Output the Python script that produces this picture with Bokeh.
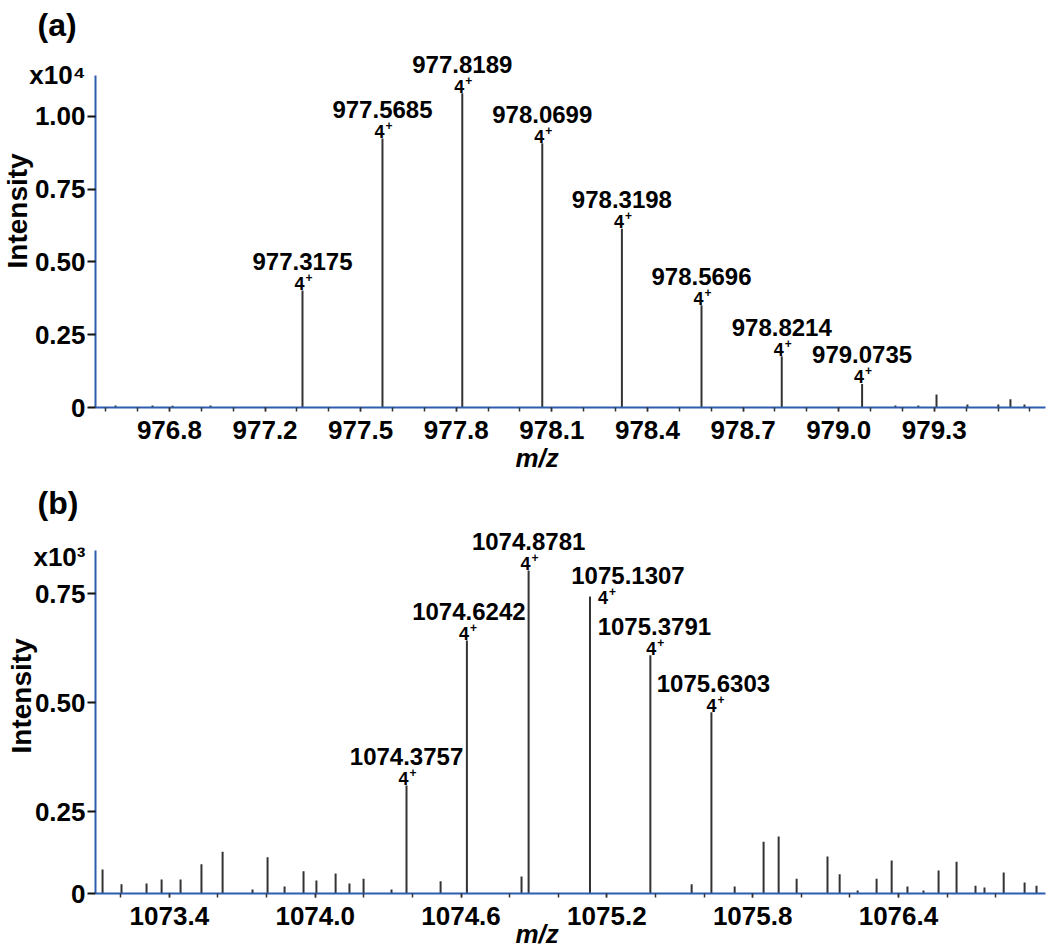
from bokeh.plotting import figure
from bokeh.models import FixedTicker, ColumnDataSource, Range1d, Title
from bokeh.layouts import column
from bokeh.embed import file_html
from bokeh.resources import INLINE
from bokeh.core.properties import value

FONT = "Liberation Sans"
PEAK_COLOR = "#333333"
AXIS_BLUE = "#2c5db0"

# ---------------- panel (a) data ----------------
mz_a = [977.3175, 977.5685, 977.8189, 978.0699, 978.3198, 978.5696, 978.8214, 979.0735]
int_a = [0.402, 0.924, 1.080, 0.908, 0.614, 0.351, 0.176, 0.081]
charge_a = [4, 4, 4, 4, 4, 4, 4, 4]
noise_mz_a = [976.731, 976.847, 976.910, 977.029, 979.178, 979.250, 979.307,
              979.404, 979.501, 979.539, 979.583]
noise_int_a = [0.007, 0.007, 0.006, 0.007, 0.007, 0.007, 0.045, 0.010, 0.010, 0.028, 0.010]
xticks_a = [976.9, 977.2, 977.5, 977.8, 978.1, 978.4, 978.7, 979.0, 979.3]
xlabels_a = ["976.8", "977.2", "977.5", "977.8", "978.1", "978.4", "978.7", "979.0", "979.3"]
xminor_a = [976.7, 976.8, 976.9, 977.0, 977.1, 977.2, 977.3, 977.4, 977.5, 977.6, 977.7,
            977.8, 977.9, 978.0, 978.1, 978.2, 978.3, 978.4, 978.5, 978.6, 978.7, 978.8,
            978.9, 979.0, 979.1, 979.2, 979.3, 979.4, 979.5, 979.6]
yticks_a = [0.0, 0.25, 0.50, 0.75, 1.00]
ylabels_a = ["0", "0.25", "0.50", "0.75", "1.00"]
scale_tick_a = 1.141
scale_label_a = "x10\u2074"
xrange_a = (976.668, 979.649)
yrange_a = (0.0, 1.2405)
yaxis_top_a = 1.141

# ---------------- panel (b) data ----------------
mz_b = [1074.3757, 1074.6242, 1074.8781, 1075.1307, 1075.3791, 1075.6303]
int_b = [0.310, 0.643, 0.804, 0.744, 0.609, 0.478]
charge_b = [4, 4, 4, 4, 4, 4]
noise_mz_b = [1073.125, 1073.203, 1073.306, 1073.368, 1073.446, 1073.532, 1073.619,
              1073.742, 1073.804, 1073.874, 1073.952, 1074.005, 1074.084, 1074.141,
              1074.199, 1074.314, 1074.516, 1074.849, 1075.549, 1075.726, 1075.845,
              1075.907, 1075.981, 1076.108, 1076.158, 1076.232, 1076.310, 1076.372,
              1076.437, 1076.503, 1076.565, 1076.639, 1076.717, 1076.754, 1076.833,
              1076.919, 1076.968]
noise_int_b = [0.117, 0.083, 0.085, 0.094, 0.094, 0.129, 0.158, 0.071, 0.145, 0.078,
               0.113, 0.092, 0.108, 0.085, 0.096, 0.071, 0.090, 0.101, 0.083, 0.078,
               0.181, 0.193, 0.096, 0.147, 0.106, 0.069, 0.096, 0.138, 0.078, 0.069,
               0.115, 0.135, 0.080, 0.076, 0.110, 0.087, 0.080]
xticks_b = [1073.4, 1074.0, 1074.6, 1075.2, 1075.8, 1076.4]
xlabels_b = ["1073.4", "1074.0", "1074.6", "1075.2", "1075.8", "1076.4"]
xminor_b = [1073.2, 1073.4, 1073.6, 1073.8, 1074.0, 1074.2, 1074.4, 1074.6, 1074.8,
            1075.0, 1075.2, 1075.4, 1075.6, 1075.8, 1076.0, 1076.2, 1076.4, 1076.6, 1076.8]
y0_b = 0.062
yticks_b = [y0_b, 0.25, 0.50, 0.75]
ylabels_b = ["0", "0.25", "0.50", "0.75"]
scale_tick_b = 0.836
scale_label_b = "x10\u00b3"
xrange_b = (1073.096, 1077.005)
yrange_b = (y0_b, 0.9095)
yaxis_top_b = 0.850

# label placement tweaks (pixels) for panel (b)
lab_dx_b = [0, 2, 0, 38, 4, 2]
chg_dx_b = [0, 0, 0, 16, 4, 3]
dy_b = [0, 0, 0, 8, 0, 0]


def style(p, xticks, xlabels, xminor, yticks, ylabels, stick, slabel, ybounds):
    p.xgrid.grid_line_color = None
    p.ygrid.grid_line_color = None
    p.outline_line_color = None
    p.background_fill_color = "white"
    p.border_fill_color = "white"
    xa = p.xaxis[0]
    xa.ticker = FixedTicker(ticks=xticks, minor_ticks=xminor)
    xa.major_label_overrides = dict(zip(xticks, xlabels))
    xa.axis_line_color = AXIS_BLUE
    xa.axis_line_width = 2
    xa.major_tick_in = 0
    xa.major_tick_out = 4
    xa.major_tick_line_color = "#333333"
    xa.major_tick_line_width = 1.5
    xa.minor_tick_in = 0
    xa.minor_tick_out = 4
    xa.minor_tick_line_color = "#333333"
    xa.minor_tick_line_width = 1.5
    xa.major_label_text_font = FONT
    xa.major_label_text_font_style = "bold"
    xa.major_label_text_font_size = "26px"
    xa.major_label_text_color = "black"
    xa.major_label_standoff = 9

    ya = p.yaxis[0]
    ya.ticker = FixedTicker(ticks=yticks + [stick], minor_ticks=yticks)
    ya.major_label_overrides = dict(zip(yticks + [stick], ylabels + [slabel]))
    ya.bounds = ybounds
    ya.axis_line_color = AXIS_BLUE
    ya.axis_line_width = 2
    ya.major_tick_in = 0
    ya.major_tick_out = 0
    ya.major_tick_line_color = None
    ya.minor_tick_in = 0
    ya.minor_tick_out = 8
    ya.minor_tick_line_color = "#111111"
    ya.minor_tick_line_width = 2
    ya.major_label_text_font = FONT
    ya.major_label_text_font_style = "bold"
    ya.major_label_text_font_size = "26px"
    ya.major_label_text_color = "black"
    ya.major_label_standoff = 2


def titles(p, tag, int_offset, mz_valign, mz_standoff):
    p.add_layout(Title(text=tag, align="left", offset=-58, standoff=8,
                       vertical_align="bottom", text_font=FONT, text_font_size="32px",
                       text_font_style="bold", text_color="black"), "above")
    p.add_layout(Title(text="Intensity", align="left", offset=int_offset, standoff=-14,
                       vertical_align="middle", text_font=FONT, text_font_size="28px",
                       text_font_style="bold", text_color="black"), "left")
    p.add_layout(Title(text="m/z", align="left", offset=420, standoff=mz_standoff,
                       vertical_align=mz_valign, text_font=FONT, text_font_size="26px",
                       text_font_style="bold italic", text_color="black"), "below")


def peaks(p, mz, inten, charge, nmz, nint, base, lab_dx, chg_dx, dy):
    src = ColumnDataSource(dict(
        mz=mz, inten=inten, base=[base] * len(mz),
        lab=["%.4f" % m for m in mz],
        chg=[str(z) for z in charge],
        plus=["+"] * len(mz),
        lab_dx=lab_dx, chg_dx=[d + 2 for d in chg_dx], plus_dx=[d + 3 for d in chg_dx],
        lab_dy=[-29 + d for d in dy], chg_dy=[-7 + d for d in dy], plus_dy=[-13 + d for d in dy],
    ))
    nsrc = ColumnDataSource(dict(mz=nmz, inten=nint, base=[base] * len(nmz)))
    p.segment(x0="mz", y0="base", x1="mz", y1="inten", source=nsrc,
              line_color=PEAK_COLOR, line_width=2)
    p.segment(x0="mz", y0="base", x1="mz", y1="inten", source=src,
              line_color=PEAK_COLOR, line_width=2)
    common = dict(text_font=value(FONT), text_font_style="bold", text_color="black",
                  text_baseline="alphabetic", source=src)
    p.text(x="mz", y="inten", text="lab", x_offset="lab_dx", y_offset="lab_dy",
           text_align="center", text_font_size="24px", **common)
    p.text(x="mz", y="inten", text="chg", x_offset="chg_dx", y_offset="chg_dy",
           text_align="right", text_font_size="18px", **common)
    p.text(x="mz", y="inten", text="plus", x_offset="plus_dx", y_offset="plus_dy",
           text_align="left", text_font_size="12px", **common)


# ---------------- figure (a) ----------------
pa = figure(width=1048, height=477, title=None,
            x_range=Range1d(*xrange_a), y_range=Range1d(*yrange_a),
            output_backend="svg", toolbar_location=None,
            min_border_left=95, min_border_right=3, min_border_top=46, min_border_bottom=70)
style(pa, xticks_a, xlabels_a, xminor_a, yticks_a, ylabels_a, scale_tick_a, scale_label_a,
      (yrange_a[0], yaxis_top_a))
titles(pa, "(a)", 139, "bottom", -1)
peaks(pa, mz_a, int_a, charge_a, noise_mz_a, noise_int_a, 0.0,
      [0] * len(mz_a), [0] * len(mz_a), [0] * len(mz_a))

# ---------------- figure (b) ----------------
pb = figure(width=1048, height=472, title=None,
            x_range=Range1d(*xrange_b), y_range=Range1d(*yrange_b),
            output_backend="svg", toolbar_location=None,
            min_border_left=95, min_border_right=3, min_border_top=47, min_border_bottom=56)
style(pb, xticks_b, xlabels_b, xminor_b, yticks_b, ylabels_b, scale_tick_b, scale_label_b,
      (yrange_b[0], yaxis_top_b))
titles(pb, "(b)", 140, "top", -17)
peaks(pb, mz_b, int_b, charge_b, noise_mz_b, noise_int_b, y0_b, lab_dx_b, chg_dx_b, dy_b)

layout = column(pa, pb)
open("out.html", "w").write(file_html(layout, INLINE))
